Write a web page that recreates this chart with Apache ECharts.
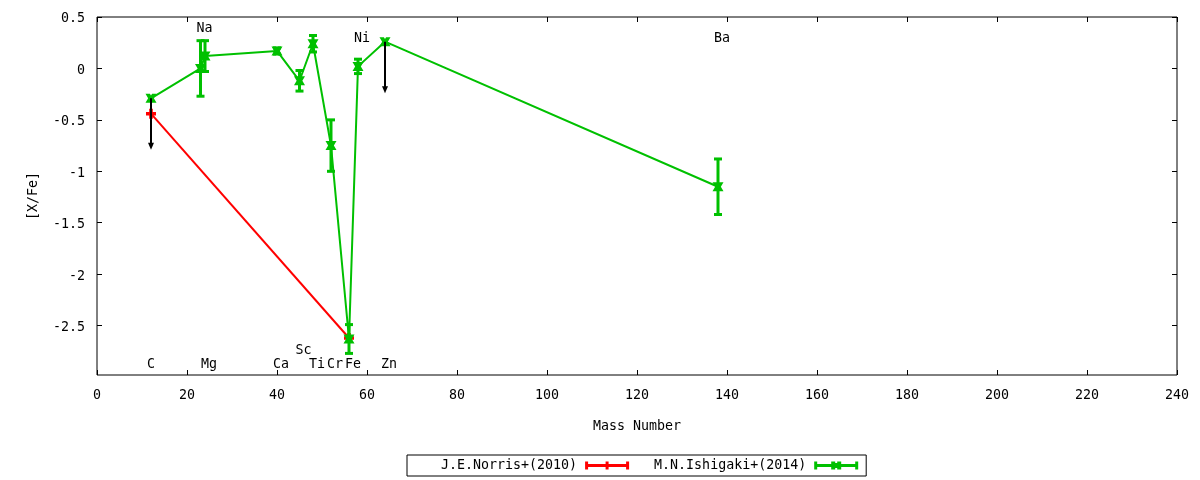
<!DOCTYPE html>
<html>
<head>
<meta charset="utf-8">
<script src="https://cdn.jsdelivr.net/npm/echarts@6/dist/echarts.min.js"></script>
<style>
html,body{margin:0;padding:0;background:#fff;}
#chart{width:1200px;height:480px;}
</style>
</head>
<body>
<div id="chart"></div>
<script>
// ---- data ----
const elements      = ['C','Na','Mg','Ca','Sc','Ti','Cr','Fe','Ni','Zn','Ba'];
const massNumbers   = [12, 23, 24, 40, 45, 48, 52, 56, 58, 64, 138];
const labelLevels   = [-2.86, 0.41, -2.86, -2.86, -2.72, -2.86, -2.86, -2.86, 0.31, -2.86, 0.31];

const norrisMass    = [12, 56];
const norrisXFe     = [-0.44, -2.62];
const norrisErr     = [0, 0];

const ishigakiMass  = [12, 23, 24, 40, 45, 48, 52, 56, 58, 64, 138];
const ishigakiXFe   = [-0.29, 0.00, 0.12, 0.17, -0.12, 0.24, -0.75, -2.63, 0.02, 0.26, -1.15];
const ishigakiErr   = [0, 0.27, 0.15, 0.03, 0.10, 0.08, 0.25, 0.14, 0.07, 0, 0.27];

const limitMass     = [12, 64];
const limitFrom     = [-0.29, 0.26];
const limitTo       = [-0.79, -0.24];

const xTickValues   = [0, 20, 40, 60, 80, 100, 120, 140, 160, 180, 200, 220, 240];
const yTickValues   = [-2.5, -2, -1.5, -1, -0.5, 0, 0.5];
const yRange        = [-2.98, 0.5];

// ---- styling ----
const FONT = 'DejaVu Sans Mono';
const FS = 13.3;
const RED = '#ff0000';
const GREEN = '#00c000';
const plusPath = 'path://M3.2,0H6.8V3.2H10V6.8H6.8V10H3.2V6.8H0V3.2H3.2Z';
const crossPath = 'path://M0,0L4,0L5,2L6,0L10,0L7.6,5L10,10L6,10L5,8L4,10L0,10L2.4,5Z';
const legendRed = 'path://M0,1H3V9H0ZM41,1H44V9H41ZM0,3.5H44V6.5H0ZM20.5,1H23.5V9H20.5Z';
const legendGreen = 'path://M0,1H3V9H0ZM41,1H44V9H41ZM0,3.5H44V6.5H0ZM17,1H21V9H17ZM23,1H27V9H23ZM19,2.5H25V7.5H19Z';

function zip(xs, ys, es) {
  return xs.map((x, i) => es ? [x, ys[i], es[i]] : [x, ys[i]]);
}

function errRender(color) {
  return function (params, api) {
    const x = api.value(0), y = api.value(1), e = api.value(2);
    if (!e) return null;
    const t = api.coord([x, y + e]);
    const b = api.coord([x, y - e]);
    const cw = 4;
    const st = { stroke: color, lineWidth: 3 };
    return {
      type: 'group',
      children: [
        { type: 'line', shape: { x1: t[0], y1: t[1], x2: b[0], y2: b[1] }, style: st },
        { type: 'line', shape: { x1: t[0] - cw, y1: t[1], x2: t[0] + cw, y2: t[1] }, style: st },
        { type: 'line', shape: { x1: b[0] - cw, y1: b[1], x2: b[0] + cw, y2: b[1] }, style: st }
      ]
    };
  };
}

function arrowRender(params, api) {
  const x = api.value(0);
  const p0 = api.coord([x, api.value(1)]);
  const p1 = api.coord([x, api.value(2)]);
  return {
    type: 'group',
    children: [
      { type: 'line', shape: { x1: p0[0], y1: p0[1], x2: p1[0], y2: p1[1] - 5 }, style: { stroke: '#000', lineWidth: 2 } },
      { type: 'polygon', shape: { points: [[p1[0] - 3, p1[1] - 7], [p1[0] + 3, p1[1] - 7], [p1[0], p1[1]]] }, style: { fill: '#000' } }
    ]
  };
}

function labelRender(params, api) {
  const p = api.coord([api.value(0), api.value(1)]);
  return {
    type: 'text',
    x: p[0] - 4,
    y: p[1] + 2,
    style: {
      text: elements[params.dataIndex],
      fill: '#000',
      font: FS + 'px "' + FONT + '"',
      textAlign: 'left',
      textVerticalAlign: 'middle'
    }
  };
}

const chart = echarts.init(document.getElementById('chart'), null, { renderer: 'canvas' });

const axisLabelStyle = { color: '#000', fontFamily: FONT, fontSize: FS };
const tickStyle = { show: true, inside: true, length: 5, lineStyle: { color: '#000' } };

const option = {
  animation: false,
  backgroundColor: '#fff',
  textStyle: { fontFamily: FONT, color: '#000' },
  grid: {
    left: 97, right: 23, top: 17, bottom: 105,
    show: true, borderColor: '#000', borderWidth: 1, backgroundColor: 'transparent'
  },
  legend: {
    left: 407, top: 455,
    align: 'right',
    orient: 'horizontal',
    padding: [4, 8, 4, 34],
    itemGap: 25,
    itemWidth: 44, itemHeight: 10,
    borderColor: '#000', borderWidth: 1,
    textStyle: { fontFamily: FONT, fontSize: FS, color: '#000', padding: [2, 3, 0, 0] },
    data: [
      { name: 'J.E.Norris+(2010)', icon: legendRed },
      { name: 'M.N.Ishigaki+(2014)', icon: legendGreen }
    ]
  },
  xAxis: [
    {
      type: 'value', min: xTickValues[0], max: xTickValues[xTickValues.length - 1], interval: 20, position: 'bottom',
      name: 'Mass Number', nameLocation: 'middle', nameGap: 45,
      nameTextStyle: { fontFamily: FONT, fontSize: FS, color: '#000' },
      axisLine: { show: false, onZero: false },
      axisTick: tickStyle,
      axisLabel: Object.assign({ margin: 14 }, axisLabelStyle),
      splitLine: { show: false }
    },
    {
      type: 'value', min: xTickValues[0], max: xTickValues[xTickValues.length - 1], interval: 20, position: 'top',
      axisLine: { show: false, onZero: false },
      axisTick: tickStyle,
      axisLabel: { show: false },
      splitLine: { show: false }
    }
  ],
  yAxis: [
    {
      type: 'value', min: yRange[0], max: yRange[1], position: 'left',
      name: '[X/Fe]', nameLocation: 'middle', nameGap: 57,
      nameTextStyle: { fontFamily: FONT, fontSize: FS, color: '#000' },
      axisLine: { show: false, onZero: false },
      axisTick: Object.assign({ customValues: yTickValues }, tickStyle),
      axisLabel: Object.assign({
        margin: 12, customValues: yTickValues,
        formatter: function (v) { return '{p|' + v + '}'; },
        rich: { p: { fontFamily: FONT, fontSize: FS, color: '#000', padding: [4, 0, 0, 0] } }
      }, axisLabelStyle),
      splitLine: { show: false }
    },
    {
      type: 'value', min: yRange[0], max: yRange[1], position: 'right',
      axisLine: { show: false, onZero: false },
      axisTick: Object.assign({ customValues: yTickValues }, tickStyle),
      axisLabel: { show: false },
      splitLine: { show: false }
    }
  ],
  series: [
    {
      name: 'J.E.Norris+(2010)', type: 'line', z: 2,
      data: zip(norrisMass, norrisXFe),
      color: RED,
      lineStyle: { color: RED, width: 2 },
      symbol: plusPath, symbolSize: 10, showAllSymbol: true,
      itemStyle: { color: RED }
    },
    {
      name: 'J.E.Norris+(2010)', type: 'custom', z: 2,
      renderItem: errRender(RED),
      data: zip(norrisMass, norrisXFe, norrisErr),
      color: RED
    },
    {
      name: 'M.N.Ishigaki+(2014)', type: 'line', z: 3,
      data: zip(ishigakiMass, ishigakiXFe),
      color: GREEN,
      lineStyle: { color: GREEN, width: 2 },
      symbol: crossPath, symbolSize: [11, 9], showAllSymbol: true,
      itemStyle: { color: GREEN }
    },
    {
      name: 'M.N.Ishigaki+(2014)', type: 'custom', z: 3,
      renderItem: errRender(GREEN),
      data: zip(ishigakiMass, ishigakiXFe, ishigakiErr),
      color: GREEN
    },
    {
      name: 'limits', type: 'custom', z: 4,
      renderItem: arrowRender,
      data: limitMass.map((m, i) => [m, limitFrom[i], limitTo[i]])
    },
    {
      name: 'labels', type: 'custom', z: 5,
      renderItem: labelRender,
      data: zip(massNumbers, labelLevels)
    }
  ]
};

chart.setOption(option);
</script>
</body>
</html>
